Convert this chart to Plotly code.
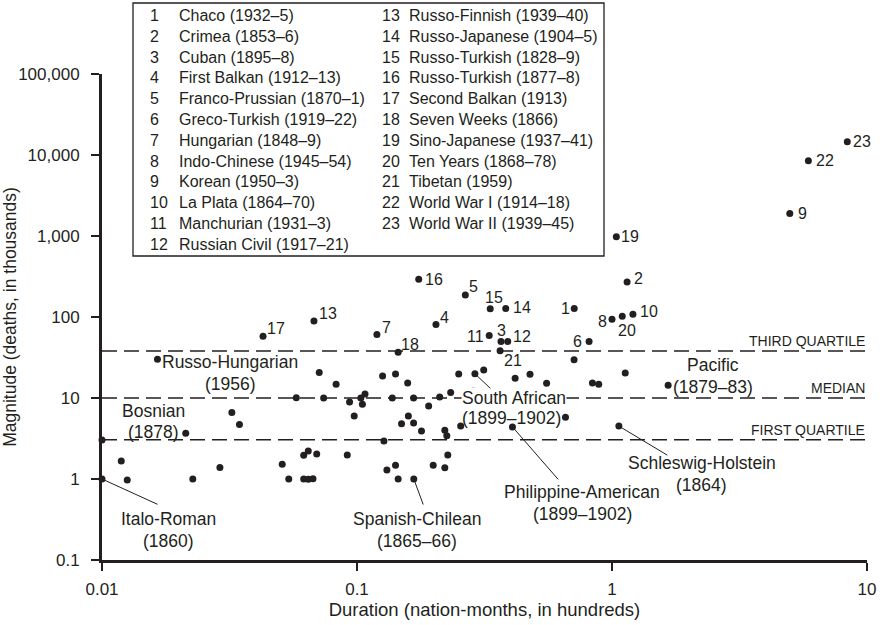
import math
import plotly.graph_objects as go

# ---------------- data ----------------
# numbered wars (duration in hundreds of nation-months, magnitude in thousands of deaths)
num_ids = list(range(1, 24))
num_names = ["Chaco (1932–5)", "Crimea (1853–6)", "Cuban (1895–8)", "First Balkan (1912–13)",
             "Franco-Prussian (1870–1)", "Greco-Turkish (1919–22)", "Hungarian (1848–9)",
             "Indo-Chinese (1945–54)", "Korean (1950–3)", "La Plata (1864–70)",
             "Manchurian (1931–3)", "Russian Civil (1917–21)", "Russo-Finnish (1939–40)",
             "Russo-Japanese (1904–5)", "Russo-Turkish (1828–9)", "Russo-Turkish (1877–8)",
             "Second Balkan (1913)", "Seven Weeks (1866)", "Sino-Japanese (1937–41)",
             "Ten Years (1868–78)", "Tibetan (1959)", "World War I (1914–18)",
             "World War II (1939–45)"]
num_x = [0.711, 1.146, 0.367, 0.204, 0.266, 0.813, 0.1197, 1.0, 4.98, 1.208, 0.330, 0.390,
         0.0678, 0.383, 0.333, 0.1746, 0.0428, 0.145, 1.04, 1.097, 0.364, 5.89, 8.37]
num_y = [127, 270, 50, 81, 187, 50, 61, 94, 1900, 108, 59, 50,
         89, 127, 126, 292, 58, 36.6, 980, 102, 38.4, 8500, 14600]

# named wars (each label: list of lines)
named_lines = [["Italo-Roman", "(1860)"], ["Russo-Hungarian", "(1956)"], ["Bosnian", "(1878)"],
               ["Spanish-Chilean", "(1865–66)"], ["South African", "(1899–1902)"],
               ["Philippine-American", "(1899–1902)"], ["Schleswig-Holstein", "(1864)"],
               ["Pacific", "(1879–83)"]]
named_x = [0.01, 0.0165, 0.0213, 0.167, 0.29, 0.407, 1.064, 1.66]
named_y = [1.0, 30, 3.66, 1.0, 19.9, 4.4, 4.5, 14.4]

# other (unlabelled) wars
other_x = [0.01, 0.0119, 0.01256, 0.0227, 0.029, 0.0323, 0.0346, 0.0509, 0.054, 0.0578,
           0.0618, 0.0644, 0.0695, 0.0618, 0.0644, 0.0672, 0.0711, 0.074, 0.0828, 0.0916,
           0.0935, 0.0975, 0.1035, 0.1075, 0.105, 0.126, 0.1275, 0.131, 0.1375, 0.1416,
           0.1416, 0.145, 0.1495, 0.158, 0.159, 0.1667, 0.1667, 0.179, 0.191, 0.199,
           0.211, 0.221, 0.221, 0.225, 0.227, 0.233, 0.2505, 0.255, 0.286, 0.314,
           0.417, 0.477, 0.554, 0.657, 0.71, 0.838, 0.887, 1.127]
other_y = [3.03, 1.67, 0.97, 1.0, 1.39, 6.6, 4.7, 1.52, 1.0, 10.1,
           1.96, 2.22, 2.04, 1.0, 0.99, 1.01, 20.6, 10.0, 14.8, 1.98,
           8.93, 6.0, 10.0, 11.2, 8.4, 18.7, 2.94, 1.29, 10.0, 19.8,
           1.48, 1.0, 4.8, 15.3, 6.0, 10.0, 4.9, 3.9, 7.96, 1.48,
           10.3, 4.0, 1.38, 3.43, 1.98, 11.7, 19.8, 4.5, 12.2, 22.2,
           17.5, 19.6, 15.2, 5.8, 29.7, 15.3, 14.8, 20.4]

quartile_names = ["FIRST QUARTILE", "MEDIAN", "THIRD QUARTILE"]
quartile_vals = [3.05, 10.0, 38.0]

x_tickvals = [0.01, 0.1, 1, 10]
x_ticktext = ["0.01", "0.1", "1", "10"]
y_tickvals = [0.1, 1, 10, 100, 1000, 10000, 100000]
y_ticktext = ["0.1", "1", "10", "100", "1,000", "10,000", "100,000"]

# ---------------- layout helpers ----------------
W, H = 883, 625
ML, MR, MT, MB = 102, 16, 74, 65
FONT = "Liberation Sans, Arial, Helvetica, sans-serif"
INK = "#231f20"


def pxx(px):
    return (px - ML) / (W - ML - MR)


def pxy(py):
    return (H - MB - py) / (H - MT - MB)


# label placement for numbers: (xanchor, xshift, yshift)
num_pos = {1: ("right", -2, 0), 2: ("left", 5, 4), 3: ("center", 1, 11), 4: ("left", 2, 7),
           5: ("left", 2, 8), 6: ("right", -5, 0), 7: ("left", 3, 7), 8: ("right", -3, -2),
           9: ("left", 6, 0), 10: ("left", 5, 3), 11: ("right", -3, -1), 12: ("left", 3, 5),
           13: ("left", 3, 8), 14: ("left", 5, 1), 15: ("center", 4, 11), 16: ("left", 4, 0),
           17: ("left", 2, 8), 18: ("left", 1, 8), 19: ("left", 3, 0), 20: ("center", 5, -14),
           21: ("left", 2, -10), 22: ("left", 6, 0), 23: ("left", 4, 0)}

# named label placement: per-line centre offsets (dx, dy px), leader (ax, ay) or None,
# and whether the first line masks the dashed line behind it
named_pos = [
    ([(66, 40), (66, 62)], (57, 26), False),
    ([(73, 3), (73, 25)], None, False),
    ([(-32, -22), (-32, -1)], None, False),
    ([(3, 40), (3, 62)], (10, 27), False),
    ([(39, 24), (37, 44)], (17, 16), True),
    ([(70, 65), (70, 87)], (47, 54), False),
    ([(83, 37), (83, 59)], (50, 30), False),
    ([(45, -20), (45, 2)], None, False),
]

fig = go.Figure()

all_x = num_x + named_x + other_x
all_y = num_y + named_y + other_y
fig.add_trace(go.Scatter(x=all_x, y=all_y, mode="markers",
                         marker=dict(size=7, color=INK), cliponaxis=False,
                         showlegend=False, hoverinfo="x+y"))

shapes = []
annotations = []

for name, val in zip(quartile_names, quartile_vals):
    shapes.append(dict(type="line", xref="paper", x0=0, x1=1, yref="y", y0=val, y1=val,
                       line=dict(color=INK, width=1.4, dash="15px,7px"), layer="below"))
    annotations.append(dict(x=1, xref="paper", y=math.log10(val), yref="y", text=name,
                            showarrow=False, xanchor="right", yanchor="bottom", yshift=0,
                            font=dict(family=FONT, size=14, color=INK)))

for i, x, y in zip(num_ids, num_x, num_y):
    xa, xs, ys = num_pos[i]
    annotations.append(dict(x=math.log10(x), y=math.log10(y), xref="x", yref="y", text=str(i),
                            showarrow=False, xanchor=xa, yanchor="middle", xshift=xs, yshift=ys,
                            font=dict(family=FONT, size=16, color=INK)))

for lines, x, y, (offs, lead, mask) in zip(named_lines, named_x, named_y, named_pos):
    for j, (line, off) in enumerate(zip(lines, offs)):
        bg = "white" if (mask and j == 0) else "rgba(0,0,0,0)"
        annotations.append(dict(x=math.log10(x), y=math.log10(y), xref="x", yref="y", text=line,
                                showarrow=False, xanchor="center", yanchor="middle",
                                xshift=off[0], yshift=-off[1], bgcolor=bg, borderpad=0,
                                font=dict(family=FONT, size=17.5, color=INK)))
    if lead is not None:
        annotations.append(dict(x=math.log10(x), y=math.log10(y), xref="x", yref="y", text="",
                                showarrow=True, arrowhead=0, arrowwidth=1, arrowcolor=INK,
                                ax=lead[0], ay=lead[1], axref="pixel", ayref="pixel"))

# legend box
shapes.append(dict(type="rect", xref="paper", yref="paper", x0=pxx(133), x1=pxx(604),
                   y0=pxy(256), y1=pxy(3), line=dict(color=INK, width=1.3),
                   fillcolor="white", layer="below"))
row0, dy = 15.5, 20.8
for k, (i, nm) in enumerate(zip(num_ids, num_names)):
    col = 0 if k < 12 else 1
    r = k if k < 12 else k - 12
    py = row0 + r * dy
    nx, tx = (148, 177) if col == 0 else (380, 407)
    annotations.append(dict(x=pxx(nx), y=pxy(py), xref="paper", yref="paper", text=str(i),
                            showarrow=False, xanchor="left", yanchor="middle",
                            font=dict(family=FONT, size=16, color=INK)))
    annotations.append(dict(x=pxx(tx), y=pxy(py), xref="paper", yref="paper", text=nm,
                            showarrow=False, xanchor="left", yanchor="middle",
                            font=dict(family=FONT, size=16, color=INK)))

axis_common = dict(type="log", showline=True, linewidth=3, linecolor=INK, ticks="outside",
                   ticklen=8, tickwidth=2, tickcolor=INK, showgrid=False, zeroline=False,
                   tickfont=dict(family=FONT, size=17, color=INK), automargin=False)

fig.update_layout(
    width=W, height=H, margin=dict(l=ML, r=MR, t=MT, b=MB),
    paper_bgcolor="white", plot_bgcolor="white",
    xaxis=dict(range=[-2, 1], tickvals=x_tickvals, ticktext=x_ticktext, ticklabelstandoff=4,
               title=dict(text="Duration (nation-months, in hundreds)",
                          font=dict(family=FONT, size=18.5, color=INK), standoff=5),
               **axis_common),
    yaxis=dict(range=[-1, 5], tickvals=y_tickvals, ticktext=y_ticktext, ticklabelstandoff=8,
               title=dict(text="Magnitude (deaths, in thousands)",
                          font=dict(family=FONT, size=17.5, color=INK), standoff=2),
               **axis_common),
    shapes=shapes, annotations=annotations, showlegend=False,
)

fig.write_html("out.html")
